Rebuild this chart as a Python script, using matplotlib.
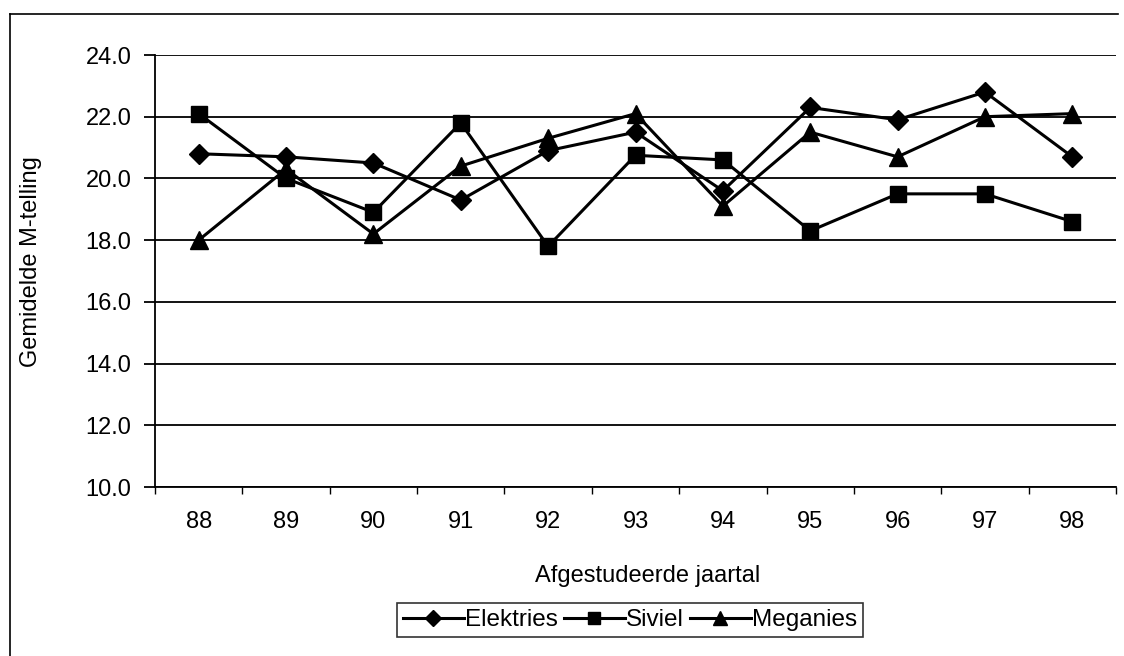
import matplotlib.pyplot as plt
from matplotlib.lines import Line2D

plt.rcParams['font.family'] = ['Liberation Sans', 'DejaVu Sans']

years = ['88', '89', '90', '91', '92', '93', '94', '95', '96', '97', '98']
elektries = [20.8, 20.7, 20.5, 19.3, 20.9, 21.5, 19.6, 22.3, 21.9, 22.8, 20.7]
siviel = [22.1, 20.0, 18.9, 21.8, 17.8, 20.75, 20.6, 18.3, 19.5, 19.5, 18.6]
meganies = [18.0, 20.3, 18.2, 20.4, 21.3, 22.1, 19.1, 21.5, 20.7, 22.0, 22.1]

fig = plt.figure(figsize=(11.24, 6.56), dpi=100)
W, H = 1124, 656
# plot area in pixels: left 155, right 1116, top 55, bottom 487
ax = fig.add_axes([155 / W, 1 - 487 / H, (1116 - 155) / W, (487 - 55) / H])

x = list(range(len(years)))
ax.plot(x, elektries, color='black', lw=2.2, marker='D', ms=10.5, label='Elektries')
ax.plot(x, siviel, color='black', lw=2.2, marker='s', ms=12, label='Siviel')
ax.plot(x, meganies, color='black', lw=2.2, marker='^', ms=13, label='Meganies')

ax.set_xlim(-0.5, len(years) - 0.5)
ax.set_ylim(10, 24)
yt = [10, 12, 14, 16, 18, 20, 22, 24]
ax.set_yticks(yt)
ax.set_yticklabels(['%.1f' % v for v in yt], fontsize=17)
ax.yaxis.grid(True, color='black', lw=1.3)
ax.set_axisbelow(True)

ax.set_xticks([i - 0.5 for i in range(len(years) + 1)], minor=False)
ax.set_xticklabels([])
ax.set_xticks(x, minor=True)
ax.set_xticklabels(years, minor=True, fontsize=17)
ax.tick_params(axis='x', which='major', length=5, width=1, direction='out')
ax.tick_params(axis='x', which='minor', length=0, pad=17)
ax.tick_params(axis='y', length=8, width=1.3, pad=9)

ax.spines['top'].set_visible(False)
ax.spines['right'].set_visible(False)
ax.spines['left'].set_linewidth(1.3)
ax.spines['bottom'].set_linewidth(1.3)

fig.text(648 / W, 1 - 576 / H, 'Afgestudeerde jaartal', ha='center', va='center', fontsize=17)
fig.text(31 / W, 1 - 262 / H, 'Gemidelde M-telling', ha='center', va='center',
         rotation=90, fontsize=17)

# outer chart border (only top and left visible in scan)
fig.add_artist(Line2D([10 / W, 1118 / W], [1 - 14 / H, 1 - 14 / H], color='black', lw=1.2))
fig.add_artist(Line2D([10 / W, 10 / W], [1 - 14 / H, 0], color='black', lw=1.2))

leg = fig.legend(loc='center', bbox_to_anchor=(630 / W, 1 - 620 / H), ncol=3,
                 fontsize=17.5, frameon=True, fancybox=False, edgecolor='black',
                 handlelength=2.5, handletextpad=0.05, columnspacing=0.25,
                 borderpad=0.25, borderaxespad=0, markerscale=0.75)
leg.get_frame().set_linewidth(1.2)

fig.savefig('out.png', dpi=100, facecolor='white')
